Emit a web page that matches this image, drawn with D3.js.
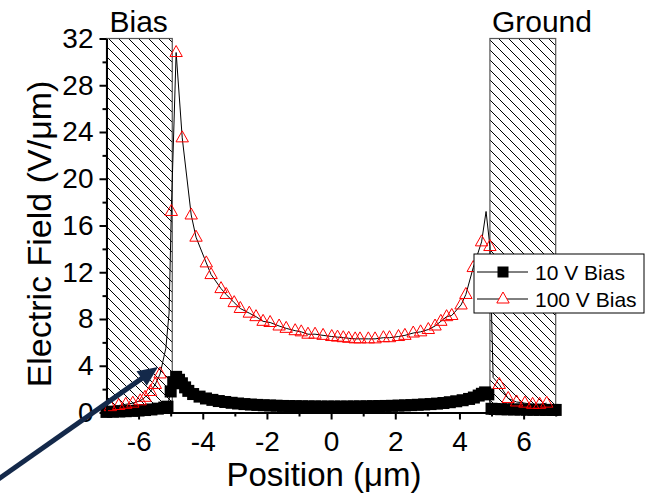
<!DOCTYPE html>
<html><head><meta charset="utf-8">
<script src="https://cdn.jsdelivr.net/npm/d3@7"></script>
<style>body{margin:0;background:#fff;} svg{display:block;font-family:"Liberation Sans",Arial,sans-serif;}</style>
</head><body><svg id="c" width="654" height="495"></svg>
<script>
// ---- data ----
const xMajorTicks = [-6,-4,-2,0,2,4,6];
const xMinorTicks = [-7,-5,-3,-1,1,3,5,7];
const yMajorTicks = [0,4,8,12,16,20,24,28,32];
const yMinorTicks = [2,6,10,14,18,22,26,30];
const regionNames = ["Bias","Ground"];
const regionStart = [-7,4.95];
const regionEnd = [-4.95,7];
const seriesNames = ["10 V Bias","100 V Bias"];

const pos10 = [-7.0,-6.8,-6.6,-6.4,-6.2,-6.0,-5.8,-5.6,-5.4,-5.2,-5.1,-5.0,-4.92,-4.83,-4.74,-4.65,-4.55,-4.45,-4.3,-4.1,-3.9,-3.7,-3.5,-3.3,-3.1,-2.9,-2.7,-2.5,-2.3,-2.1,-1.9,-1.7,-1.5,-1.3,-1.1,-0.9,-0.7,-0.5,-0.3,-0.1,0.1,0.3,0.5,0.7,0.9,1.1,1.3,1.5,1.7,1.9,2.1,2.3,2.5,2.7,2.9,3.1,3.3,3.5,3.7,3.9,4.1,4.3,4.45,4.6,4.7,4.8,4.9,5.0,5.1,5.3,5.5,5.7,5.9,6.1,6.3,6.5,6.7,6.9,7.0];
const field10 = [0.05,0.07,0.09,0.11,0.14,0.17,0.21,0.26,0.33,0.42,0.5,1.8,2.6,3.05,2.8,2.5,2.15,1.85,1.58,1.36,1.2,1.08,0.98,0.9,0.83,0.77,0.72,0.68,0.65,0.62,0.6,0.58,0.56,0.55,0.54,0.53,0.52,0.52,0.51,0.51,0.51,0.51,0.51,0.52,0.52,0.53,0.54,0.55,0.56,0.57,0.59,0.61,0.63,0.66,0.69,0.72,0.76,0.81,0.88,0.96,1.05,1.16,1.28,1.45,1.6,1.72,1.55,0.32,0.3,0.28,0.27,0.26,0.25,0.24,0.23,0.23,0.22,0.22,0.22];

const pos100 = [-6.88,-6.62,-6.4,-6.18,-5.95,-5.8,-5.63,-5.48,-5.33,-5.15,-5.05,-4.98,-4.83,-4.64,-4.36,-4.21,-3.89,-3.74,-3.43,-3.27,-3.02,-2.83,-2.55,-2.34,-2.12,-1.9,-1.62,-1.4,-1.12,-0.93,-0.72,-0.5,-0.25,0.02,0.2,0.38,0.55,0.75,0.9,1.16,1.37,1.63,1.82,2.1,2.3,2.56,2.79,3.03,3.24,3.42,3.6,3.76,4.05,4.2,4.43,4.69,4.83,4.95,5.05,5.24,5.52,5.78,6.04,6.28,6.5,6.72];
const field100 = [0.5,0.6,0.7,0.8,1.0,1.3,1.8,2.4,3.3,5.5,8.5,17.2,30.8,23.5,16.9,15.0,12.8,11.8,10.6,10.1,9.4,8.9,8.5,8.2,7.8,7.7,7.4,7.2,7.0,6.9,6.7,6.7,6.6,6.5,6.45,6.4,6.35,6.3,6.3,6.3,6.3,6.4,6.4,6.5,6.6,6.8,6.9,7.1,7.4,7.8,8.2,8.3,9.2,10.1,12.4,14.6,17.2,14.2,3.0,2.4,1.2,0.9,0.8,0.7,0.7,0.8];
const lineOnly100 = [-5.15,-5.05,4.83,5.05];

// ---- drawing ----
const svg = d3.select("#c");
const x = d3.scaleLinear().domain([-7,7]).range([106.5,555.7]);
const y = d3.scaleLinear().domain([0,32]).range([412.5,38.5]);

const defs = svg.append("defs");
const pat = defs.append("pattern").attr("id","hatch").attr("patternUnits","userSpaceOnUse")
  .attr("width",10).attr("height",10);
pat.append("path").attr("d","M0,0 L10,10 M-5,5 L5,15 M5,-5 L15,5")
  .attr("stroke","#000").attr("stroke-width",1).attr("fill","none");

// hatched regions
regionNames.forEach((n,i)=>{
  svg.append("rect")
    .attr("x",x(regionStart[i])).attr("y",y(32))
    .attr("width",x(regionEnd[i])-x(regionStart[i])).attr("height",y(0)-y(32))
    .attr("fill","url(#hatch)").attr("stroke","#555").attr("stroke-width",1.2);
  svg.append("text").attr("x",x(regionStart[i])+ (i===0?3:2)).attr("y",31.5)
    .attr("font-size",30).attr("fill","#000").text(n);
});

// 10 V series
const d10 = pos10.map((p,i)=>[p,field10[i]]);
svg.append("path").attr("d",d3.line().x(d=>x(d[0])).y(d=>y(d[1]))(d10))
  .attr("fill","none").attr("stroke","#000").attr("stroke-width",1);
const sq = 12;
svg.append("g").selectAll("rect").data(d10).join("rect")
  .attr("x",d=>x(d[0])-sq/2).attr("y",d=>y(d[1])-sq/2).attr("width",sq).attr("height",sq)
  .attr("fill","#000");

// 100 V series
const d100 = pos100.map((p,i)=>[p,field100[i]]);
svg.append("path").attr("d",d3.line().x(d=>x(d[0])).y(d=>y(d[1]))(d100))
  .attr("fill","none").attr("stroke","#000").attr("stroke-width",1);
const tri = "M0,-7 L6.2,4 L-6.2,4 Z";
svg.append("g").selectAll("path").data(d100.filter(d=>!lineOnly100.includes(d[0]))).join("path")
  .attr("transform",d=>`translate(${x(d[0])},${y(d[1])})`).attr("d",tri)
  .attr("fill","none").attr("stroke","#ff0000").attr("stroke-width",1);

// axes
const fmt = d => d<0 ? "-"+Math.abs(d) : String(d);
const axX = svg.append("g").attr("transform",`translate(0,${y(0)})`)
  .call(d3.axisBottom(x).tickValues(xMinorTicks).tickSize(4).tickSizeOuter(0).tickFormat(()=>""));
axX.select(".domain").remove();
const axX2 = svg.append("g").attr("transform",`translate(0,${y(0)})`)
  .call(d3.axisBottom(x).tickValues(xMajorTicks).tickSize(7).tickSizeOuter(0).tickPadding(12).tickFormat(fmt));
const axY = svg.append("g").attr("transform",`translate(${x(-7)},0)`)
  .call(d3.axisLeft(y).tickValues(yMinorTicks).tickSize(4).tickSizeOuter(0).tickFormat(()=>""));
axY.select(".domain").remove();
const axY2 = svg.append("g").attr("transform",`translate(${x(-7)},0)`)
  .call(d3.axisLeft(y).tickValues(yMajorTicks).tickSize(7).tickSizeOuter(0).tickPadding(6).tickFormat(fmt));
svg.selectAll(".tick line").attr("stroke","#000").attr("stroke-width",2);
svg.selectAll(".domain").attr("stroke","#000").attr("stroke-width",2);
[axX2, axY2].forEach(a=>a.selectAll(".tick text").attr("font-size",28).attr("fill","#000")
  .attr("font-family",'"Liberation Sans",Arial,sans-serif'));

// axis titles
svg.append("text").attr("x",324).attr("y",486).attr("text-anchor","middle")
  .attr("font-size",33).attr("fill","#000").text("Position (μm)");
svg.append("text").attr("transform","translate(51,234) rotate(-90)").attr("text-anchor","middle")
  .attr("font-size",34).attr("fill","#000").text("Electric Field (V/μm)");

// legend
const lg = svg.append("g").attr("transform","translate(474,254)");
lg.append("rect").attr("x",0).attr("y",0).attr("width",170).attr("height",59)
  .attr("fill","#fff").attr("stroke","#000").attr("stroke-width",1);
seriesNames.forEach((n,i)=>{
  const cy = 18 + i*27;
  lg.append("line").attr("x1",3).attr("x2",54).attr("y1",cy).attr("y2",cy).attr("stroke","#000").attr("stroke-width",1);
  if(i===0) lg.append("rect").attr("x",29-5.5).attr("y",cy-5.5).attr("width",11).attr("height",11).attr("fill","#000");
  else lg.append("path").attr("transform",`translate(29,${cy})`).attr("d",tri).attr("fill","#fff").attr("stroke","#ff0000");
  lg.append("text").attr("x",61).attr("y",cy).attr("dy","0.36em").attr("font-size",21).attr("fill","#000").text(n);
});

// annotation arrow
const ax0=-20, ay0=492, ax1=158, ay1=367;
const ang = Math.atan2(ay1-ay0, ax1-ax0);
const hl=20, hw=9;
const bx = ax1 - hl*Math.cos(ang), by = ay1 - hl*Math.sin(ang);
svg.append("line").attr("x1",ax0).attr("y1",ay0).attr("x2",bx+2*Math.cos(ang)).attr("y2",by+2*Math.sin(ang))
  .attr("stroke","#14294a").attr("stroke-width",5);
svg.append("path").attr("d",`M${ax1},${ay1} L${bx - hw*Math.sin(ang)},${by + hw*Math.cos(ang)} L${bx + hw*Math.sin(ang)},${by - hw*Math.cos(ang)} Z`)
  .attr("fill","#14294a");
</script></body></html>
